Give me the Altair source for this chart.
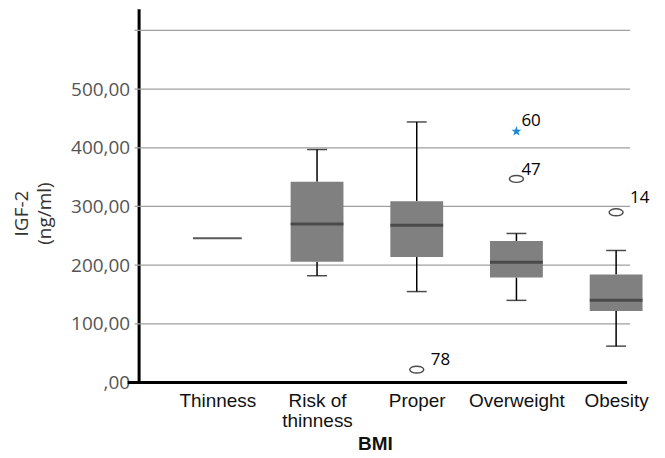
import altair as alt
import pandas as pd

categories = ["Thinness", "Risk of thinness", "Proper", "Overweight", "Obesity"]
whisker_low = [None, 182, 155, 140, 62]
q1 = [None, 206, 214, 179, 122]
median = [246, 270, 268, 205, 140]
q3 = [None, 342, 309, 241, 184]
whisker_high = [None, 397, 444, 254, 225]

outlier_cats = ["Proper", "Overweight", "Obesity"]
outlier_vals = [22, 347, 290]
outlier_ids = ["78", "47", "14"]

extreme_cats = ["Overweight"]
extreme_vals = [428]
extreme_ids = ["60"]

y_ticks = [0, 100, 200, 300, 400, 500, 600]

stats = pd.DataFrame({"cat": categories, "lo": whisker_low, "q1": q1, "med": median,
                      "q3": q3, "hi": whisker_high})
boxes = stats.dropna()
single = stats[stats["q1"].isna()]
outs = pd.DataFrame({"cat": outlier_cats, "v": outlier_vals, "id": outlier_ids})
extr = pd.DataFrame({"cat": extreme_cats, "v": extreme_vals, "id": extreme_ids})
grid = pd.DataFrame({"v": y_ticks[1:]})

xenc = alt.X("cat:N",
             scale=alt.Scale(type="point", domain=categories, range=[79, 479], padding=0),
             axis=alt.Axis(title="BMI", domain=False, ticks=False, tickSize=0, grid=False,
                           labelAngle=0, labelFont="Liberation Sans", labelFontSize=19,
                           labelColor="#111", labelPadding=9, labelBaseline="top",
                           labelLineHeight=20,
                           labelExpr="datum.value == 'Risk of thinness' ? ['Risk of', 'thinness'] : datum.value",
                           titleFont="Liberation Sans", titleFontSize=19, titleFontWeight="bold",
                           titleColor="#111", titleX=237, titleY=67, titleAlign="center",
                           titleBaseline="alphabetic"))
yscale = alt.Scale(domain=[0, 637], nice=False, zero=True)
yaxis = alt.Axis(values=y_ticks, title=["IGF-2", "(ng/ml)"], domain=True, domainColor="black",
                 domainWidth=3, ticks=False, tickSize=4, grid=False,
                 labelFont="Open Sans", labelFontSize=19, labelColor="#555", labelPadding=9,
                 labelExpr="datum.value >= 600 ? '' : datum.value == 0 ? ',00' : replace(format(datum.value, '.2f'), '.', ',')",
                 titleFont="Open Sans", titleFontSize=19, titleFontWeight="normal",
                 titleColor="#333", titleAngle=270, titleX=-111, titleY=205,
                 titleAlign="center", titleBaseline="alphabetic", titleLineHeight=23)

def Y(field):
    return alt.Y(f"{field}:Q", scale=yscale, axis=yaxis)

gridlines = alt.Chart(grid).mark_rule(color="#a0a0a0", strokeWidth=1.2).encode(
    x=alt.value(-4), x2=alt.value(493), y=Y("v"))
wlow = alt.Chart(boxes).mark_rule(color="black", strokeWidth=1.5).encode(x=xenc, y=Y("lo"), y2="q1:Q")
whigh = alt.Chart(boxes).mark_rule(color="black", strokeWidth=1.5).encode(x=xenc, y=Y("q3"), y2="hi:Q")
box = alt.Chart(boxes).mark_bar(color="#808080", size=53).encode(x=xenc, y=Y("q1"), y2="q3:Q")
med = alt.Chart(boxes).mark_tick(color="#333333", size=53, thickness=3).encode(x=xenc, y=Y("med"))
med1 = alt.Chart(single).mark_tick(color="#111111", size=49, thickness=2).encode(x=xenc, y=Y("med"))
caplo = alt.Chart(boxes).mark_tick(color="black", size=20, thickness=1.5).encode(x=xenc, y=Y("lo"))
caphi = alt.Chart(boxes).mark_tick(color="black", size=20, thickness=1.5).encode(x=xenc, y=Y("hi"))

ellipse = "M -1 0 A 1 0.5 0 1 0 1 0 A 1 0.5 0 1 0 -1 0 Z"
star = ("M 0 -1 L 0.235 -0.324 L 0.951 -0.309 L 0.38 0.124 L 0.588 0.809 L 0 0.4 "
        "L -0.588 0.809 L -0.38 0.124 L -0.951 -0.309 L -0.235 -0.324 Z")

opts = alt.Chart(outs).mark_point(shape=ellipse, size=196, filled=False, color="black",
                                  strokeWidth=1.5).encode(x=xenc, y=Y("v"))
ext = alt.Chart(extr).mark_point(shape=star, size=110, filled=True, color="#1a87d6",
                                 strokeWidth=0, opacity=1).encode(x=xenc, y=Y("v"))

def label(df, dx, dy):
    return alt.Chart(df).mark_text(font="Open Sans", fontSize=17, color="black", align="left",
                                   baseline="alphabetic", dx=dx, dy=dy).encode(
        x=xenc, y=Y("v"), text="id:N")

lab60 = label(extr, 5, -5)
lab47 = label(outs[outs["id"] == "47"], 5, -4)
lab14 = label(outs[outs["id"] == "14"], 14, -9)
lab78 = label(outs[outs["id"] == "78"], 14, -5)

xline = alt.Chart(pd.DataFrame({"a": [0]})).mark_rule(color="black", strokeWidth=3).encode(
    x=alt.value(-11), x2=alt.value(490), y=alt.value(375))

chart = alt.layer(gridlines, wlow, whigh, box, med, med1, caplo, caphi, opts, ext,
                  lab60, lab47, lab14, lab78, xline).properties(
    width=490, height=375,
    autosize=alt.AutoSizeParams(type="none"),
    padding={"left": 131, "top": 0, "right": 30, "bottom": 72},
).configure_view(stroke=None)

chart.save("out.html", embed_options={"renderer": "svg", "actions": False})
